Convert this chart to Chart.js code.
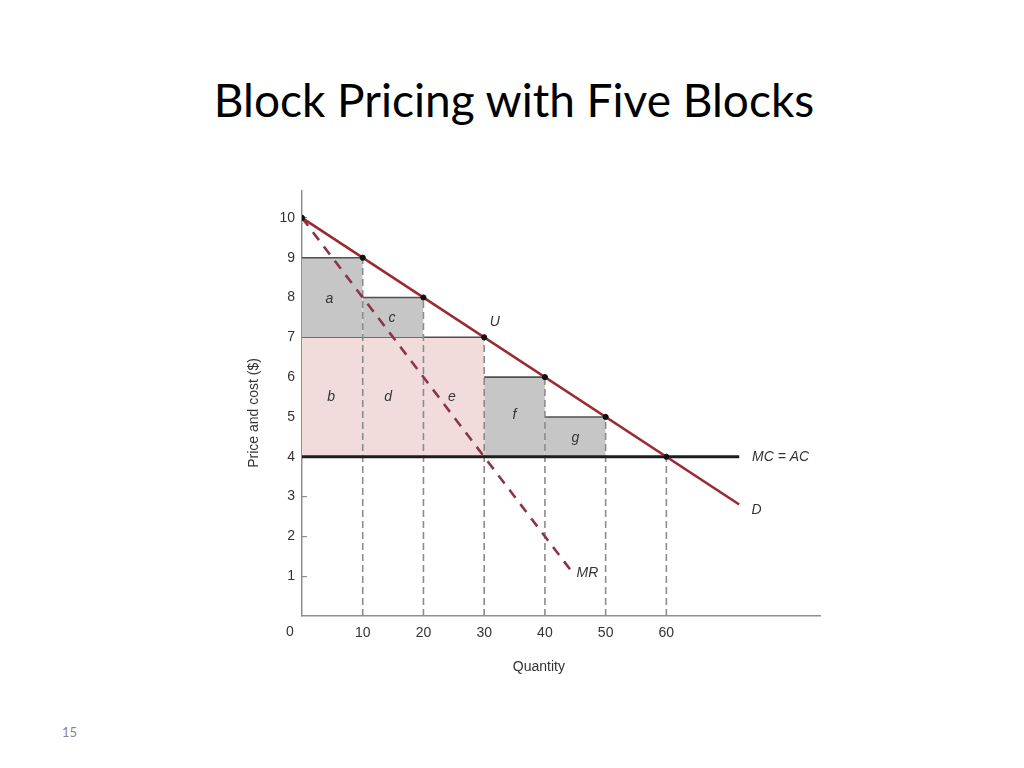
<!DOCTYPE html>
<html>
<head>
<meta charset="utf-8">
<title>Block Pricing with Five Blocks</title>
<script src="https://cdn.jsdelivr.net/npm/chart.js@4.4.1/dist/chart.umd.min.js"></script>
<style>
  html, body { margin: 0; padding: 0; background: #fff; }
  body { width: 1024px; height: 768px; position: relative; overflow: hidden; }
  #title {
    position: absolute; left: 0; top: 72px; width: 1028px; text-align: center;
    font-family: Lato, "Open Sans", sans-serif; font-size: 46px; font-weight: normal; color: #000;
  }
  #page { position: absolute; left: 62px; top: 724px; font-family: Lato, sans-serif; font-size: 13px; color: #888; }
  #box { position: absolute; left: 200px; top: 170px; width: 660px; height: 520px; }
</style>
</head>
<body>
<div id="title">Block Pricing with Five Blocks</div>
<div id="box"><canvas id="myChart"></canvas></div>
<div id="page">15</div>
<script>
// block ends on the demand curve
const blockQty = [0, 10, 20, 30, 40, 50, 60];
const blockPrice = [10, 9, 8, 7, 6, 5, 4];

// demand, marginal revenue, marginal cost
const demandQty = [0, 72];
const demandPrice = [10, 2.8];
const mrQty = [0, 44.2];
const mrPrice = [10, 1.16];
const mcQty = [0, 72];
const mcPrice = [4, 4];

// gray blocks a, c, f, g
const grayFrom = [0, 10, 30, 40];
const grayTo = [10, 20, 40, 50];
const grayTop = [9, 8, 6, 5];
const grayBase = [7, 7, 4, 4];

// pink area b + d + e
const pinkFrom = 0, pinkTo = 30, pinkTop = 7, pinkBase = 4;

// tick labels
const xTicks = [10, 20, 30, 40, 50, 60];
const yTicks = [1, 2, 3, 4, 5, 6, 7, 8, 9, 10];

// text in the plot
const areaNames = ['a', 'b', 'c', 'd', 'e', 'f', 'g'];
const areaQ = [4.5, 4.8, 14.8, 14.2, 24.7, 35, 45];
const areaP = [7.95, 5.5, 7.47, 5.5, 5.5, 5.05, 4.47];
const curveNames = ['U', 'MC = AC', 'D', 'MR'];
const curveQ = [30.9, 74.1, 74.0, 45.2];
const curveP = [7.38, 4.0, 2.65, 1.07];

window.addEventListener('DOMContentLoaded', function() {
    var ctx = document.getElementById('myChart');
    var datasets = [];

    // dots
    datasets.push({
        type: 'scatter',
        data: blockQty.map(function(q, i) { return {x: q, y: blockPrice[i]}; }),
        backgroundColor: '#111',
        borderColor: '#111',
        pointRadius: 2.6,
        order: 0
    });
    // demand
    datasets.push({
        data: demandQty.map(function(q, i) { return {x: q, y: demandPrice[i]}; }),
        borderColor: '#9a2b30',
        borderWidth: 2.6,
        pointRadius: 0,
        order: 1
    });
    // MR
    datasets.push({
        data: mrQty.map(function(q, i) { return {x: q, y: mrPrice[i]}; }),
        borderColor: '#8c3449',
        borderWidth: 2.6,
        borderDash: [10, 8],
        pointRadius: 0,
        order: 2
    });
    // MC = AC
    datasets.push({
        data: mcQty.map(function(q, i) { return {x: q, y: mcPrice[i]}; }),
        borderColor: '#1e1e1e',
        borderWidth: 3.2,
        pointRadius: 0,
        order: 3
    });
    // vertical dashed lines
    for (var i = 1; i < blockQty.length; i++) {
        datasets.push({
            data: [{x: blockQty[i], y: 0}, {x: blockQty[i], y: blockPrice[i]}],
            borderColor: '#8c8c8c',
            borderWidth: 1.6,
            borderDash: [7, 4],
            pointRadius: 0,
            order: 5
        });
    }
    // gray blocks
    for (var j = 0; j < grayFrom.length; j++) {
        datasets.push({
            data: [{x: grayFrom[j], y: grayTop[j]}, {x: grayTo[j], y: grayTop[j]}],
            borderColor: '#4f4f4f',
            borderWidth: 1.6,
            backgroundColor: '#c6c6c6',
            fill: {value: grayBase[j]},
            pointRadius: 0,
            order: 6
        });
    }
    // pink area
    datasets.push({
        data: [{x: pinkFrom, y: pinkTop}, {x: pinkTo, y: pinkTop}],
        borderColor: '#4f4f4f',
        borderWidth: 1.6,
        backgroundColor: '#f1dbdb',
        fill: {value: pinkBase},
        pointRadius: 0,
        order: 7
    });

    var textPlugin = {
        id: 'texts',
        afterDatasetsDraw: function(chart) {
            var c = chart.ctx, xs = chart.scales.x, ys = chart.scales.y;
            c.save();
            c.fillStyle = '#333';
            c.font = 'italic 14px "Liberation Sans", Arial, sans-serif';
            c.textAlign = 'center';
            c.textBaseline = 'middle';
            areaNames.forEach(function(t, k) {
                c.fillText(t, xs.getPixelForValue(areaQ[k]), ys.getPixelForValue(areaP[k]));
            });
            c.textAlign = 'left';
            curveNames.forEach(function(t, k) {
                c.fillText(t, xs.getPixelForValue(curveQ[k]), ys.getPixelForValue(curveP[k]));
            });
            c.restore();
        },
        afterDraw: function(chart) {
            var c = chart.ctx, xs = chart.scales.x, ys = chart.scales.y;
            var a = chart.chartArea;
            c.save();
            c.fillStyle = '#333';
            c.font = '14px "Liberation Sans", Arial, sans-serif';
            c.textAlign = 'center';
            c.textBaseline = 'middle';
            c.fillText('0', a.left - 12, a.bottom + 16);
            c.fillText('Quantity', xs.getPixelForValue(39), a.bottom + 51);
            c.translate(a.left - 48, ys.getPixelForValue(5.1));
            c.rotate(-Math.PI / 2);
            c.fillText('Price and cost ($)', 0, 0);
            c.restore();
        }
    };

    var myChart = new Chart(ctx, {
        type: 'line',
        data: {datasets: datasets},
        plugins: [textPlugin],
        options: {
            responsive: true,
            maintainAspectRatio: false,
            animation: false,
            events: [],
            layout: {padding: {left: 52, right: 40, top: 16, bottom: 44}},
            plugins: {
                legend: {display: false},
                tooltip: {enabled: false}
            },
            scales: {
                x: {
                    type: 'linear',
                    min: 0,
                    max: 85.3,
                    afterBuildTicks: function(scale) {
                        scale.ticks = xTicks.map(function(v) { return {value: v}; });
                    },
                    afterFit: function(scale) { scale.height = 30; },
                    grid: {display: false},
                    border: {display: true, color: '#8f8f8f', width: 1.5},
                    ticks: {
                        color: '#333',
                        padding: 1,
                        maxRotation: 0,
                        font: {family: '"Liberation Sans", Arial, sans-serif', size: 14}
                    }
                },
                y: {
                    type: 'linear',
                    min: 0,
                    max: 10.69,
                    afterBuildTicks: function(scale) {
                        scale.ticks = yTicks.map(function(v) { return {value: v}; });
                    },
                    afterFit: function(scale) { scale.width = 50; },
                    grid: {display: true, drawOnChartArea: false, drawTicks: true, tickLength: -5, color: '#8f8f8f', lineWidth: 1.2},
                    border: {display: true, color: '#8f8f8f', width: 1.5},
                    ticks: {
                        color: '#333',
                        padding: 12,
                        font: {family: '"Liberation Sans", Arial, sans-serif', size: 14}
                    }
                }
            }
        }
    });
});
</script>
</body>
</html>
